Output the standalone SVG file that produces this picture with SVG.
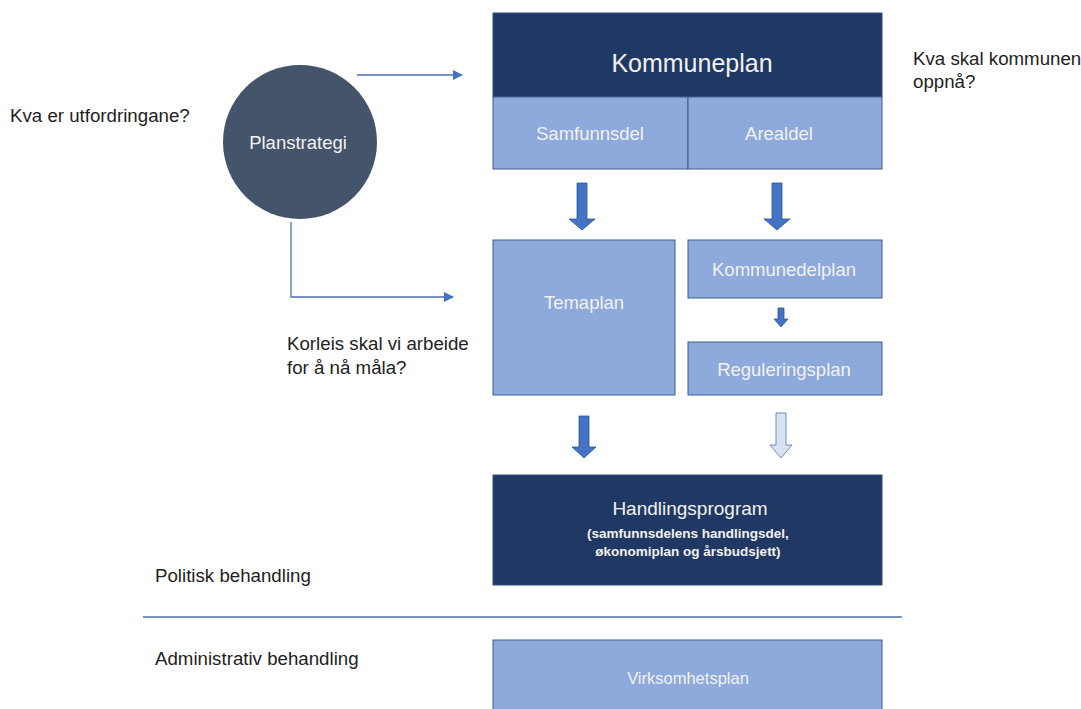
<svg xmlns="http://www.w3.org/2000/svg" width="1081" height="709" viewBox="0 0 1081 709">
<defs>
<style>
.lbl{font-family:"Liberation Sans",Arial,sans-serif;fill:#222;font-size:18.7px}
.wt{font-family:"Liberation Sans",Arial,sans-serif;fill:#F2F2F2;text-anchor:middle}
.dark{fill:#203864;stroke:#2F4F80;stroke-width:1}
.light{fill:#8EA9DB;stroke:#3E5C8A;stroke-width:1}
.conn{stroke:#4A72B0;stroke-width:1.3;fill:none}
.blk{fill:#4472C4;stroke:#2F5597;stroke-width:0.8}
</style>
<marker id="ah" markerWidth="10" markerHeight="10" refX="9" refY="5" orient="auto" markerUnits="userSpaceOnUse">
<path d="M0,0 L10,5 L0,10 Z" fill="#4472C4"/>
</marker>
</defs>
<rect width="1081" height="709" fill="#fff"/>

<g id="kommuneplan">
<rect class="dark" x="493" y="13" width="389" height="84"/>
<text class="wt" x="692" y="72" font-size="25">Kommuneplan</text>
</g>
<g id="samfunnsdel">
<rect class="light" x="493" y="97" width="195" height="72"/>
<text class="wt" x="590" y="140" font-size="18.5">Samfunnsdel</text>
</g>
<g id="arealdel">
<rect class="light" x="688" y="97" width="194" height="72"/>
<text class="wt" x="779" y="140" font-size="18.5">Arealdel</text>
</g>
<g id="planstrategi">
<circle cx="300" cy="142" r="77" fill="#44546A"/>
<text class="wt" x="298" y="149" font-size="18.5">Planstrategi</text>
</g>
<g id="temaplan">
<rect class="light" x="493" y="240" width="182" height="155"/>
<text class="wt" x="584" y="309" font-size="18.5">Temaplan</text>
</g>
<g id="kommunedelplan">
<rect class="light" x="688" y="240" width="194" height="58"/>
<text class="wt" x="784" y="276" font-size="18.5">Kommunedelplan</text>
</g>
<g id="reguleringsplan">
<rect class="light" x="688" y="342" width="194" height="53"/>
<text class="wt" x="784" y="376" font-size="18.5">Reguleringsplan</text>
</g>
<g id="handlingsprogram">
<rect class="dark" x="493" y="475" width="389" height="110"/>
<text class="wt" x="690" y="515" font-size="19">Handlingsprogram</text>
<text class="wt" x="688" y="538" font-size="13.5" font-weight="bold">(samfunnsdelens handlingsdel,</text>
<text class="wt" x="688" y="556" font-size="13.5" font-weight="bold">økonomiplan og årsbudsjett)</text>
</g>
<g id="virksomhetsplan">
<rect class="light" x="493" y="640" width="389" height="75"/>
<text class="wt" x="688" y="684" font-size="16.5">Virksomhetsplan</text>
</g>

<g id="labels">
<text class="lbl" x="10" y="122">Kva er utfordringane?</text>
<text class="lbl" x="913" y="65">Kva skal kommunen</text>
<text class="lbl" x="913" y="88">oppnå?</text>
<text class="lbl" x="287" y="350">Korleis skal vi arbeide</text>
<text class="lbl" x="287" y="374">for å nå måla?</text>
<text class="lbl" x="155" y="582">Politisk behandling</text>
<text class="lbl" x="155" y="665">Administrativ behandling</text>
</g>

<g id="connectors">
<line class="conn" x1="357" y1="75" x2="462" y2="75" marker-end="url(#ah)"/>
<polyline class="conn" points="291,222 291,297 453,297" marker-end="url(#ah)"/>
<line x1="143" y1="617" x2="902" y2="617" stroke="#4A72B0" stroke-width="1.3"/>
<path class="blk" d="M577,183 H587 V219 H595 L582,230 L569,219 H577 Z"/>
<path class="blk" d="M772,183 H782 V219 H790 L777,230 L764,219 H772 Z"/>
<path class="blk" d="M778,308 H784 V319 H788 L781,327 L774,319 H778 Z"/>
<path class="blk" d="M579,416 H589 V447 H596 L584,458 L572,447 H579 Z"/>
<path d="M776,413 H786 V445 H792 L781,458 L770,445 H776 Z" fill="#DAE3F3" stroke="#6C8BBF" stroke-width="1"/>
</g>
</svg>
